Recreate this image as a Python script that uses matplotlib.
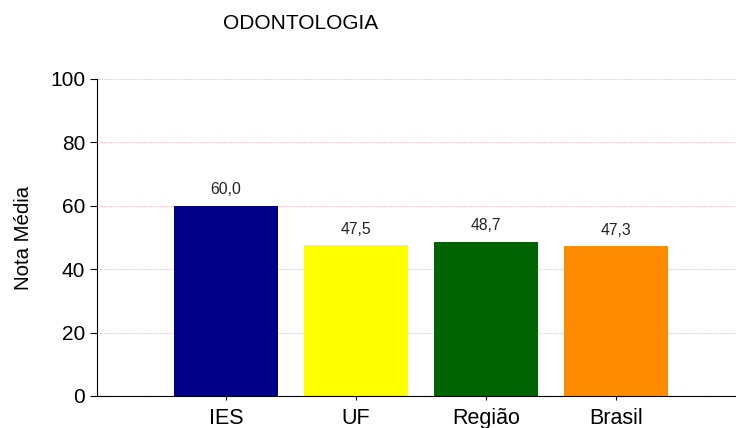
import matplotlib
matplotlib.use('Agg')
import matplotlib.pyplot as plt

categorias = ['IES', 'UF', 'Região', 'Brasil']
notas = [60.0, 47.5, 48.7, 47.3]
cores = ['#000088', '#ffff00', '#006400', '#ff8c00']

plt.rcParams['font.family'] = ['Liberation Sans', 'DejaVu Sans']

fig = plt.figure(figsize=(7.36, 4.28), dpi=100)
ax = fig.add_axes([0.1318, 0.0748, 0.8682, 0.7407])

x = range(len(categorias))
bars = ax.bar(x, notas, width=0.8, color=cores, zorder=2)
for b, v in zip(bars, notas):
    ax.annotate(('%.1f' % v).replace('.', ','), (b.get_x() + b.get_width() / 2, v),
                xytext=(0, 6), textcoords='offset points', ha='center', va='bottom',
                fontsize=11.3, color='#222222')

ax.set_xlim(-0.99, 3.92)
ax.set_ylim(0, 100)
ax.set_yticks([0, 20, 40, 60, 80, 100])
ax.set_xticks(list(x))
ax.set_xticklabels(categorias, fontsize=15.5)
ax.tick_params(axis='y', labelsize=15, length=5, direction='out')
ax.tick_params(axis='x', length=3, pad=6)
ax.yaxis.grid(True, linestyle=(0, (1, 1)), color='#f4b8c8', linewidth=0.8, zorder=0)
ax.spines['top'].set_visible(False)
ax.spines['right'].set_visible(False)
ax.set_ylabel('Nota Média', fontsize=14.7, labelpad=12)

fig.text(0.408, 0.945, 'ODONTOLOGIA', ha='center', va='center', fontsize=15)

fig.savefig('out.png', dpi=100)
